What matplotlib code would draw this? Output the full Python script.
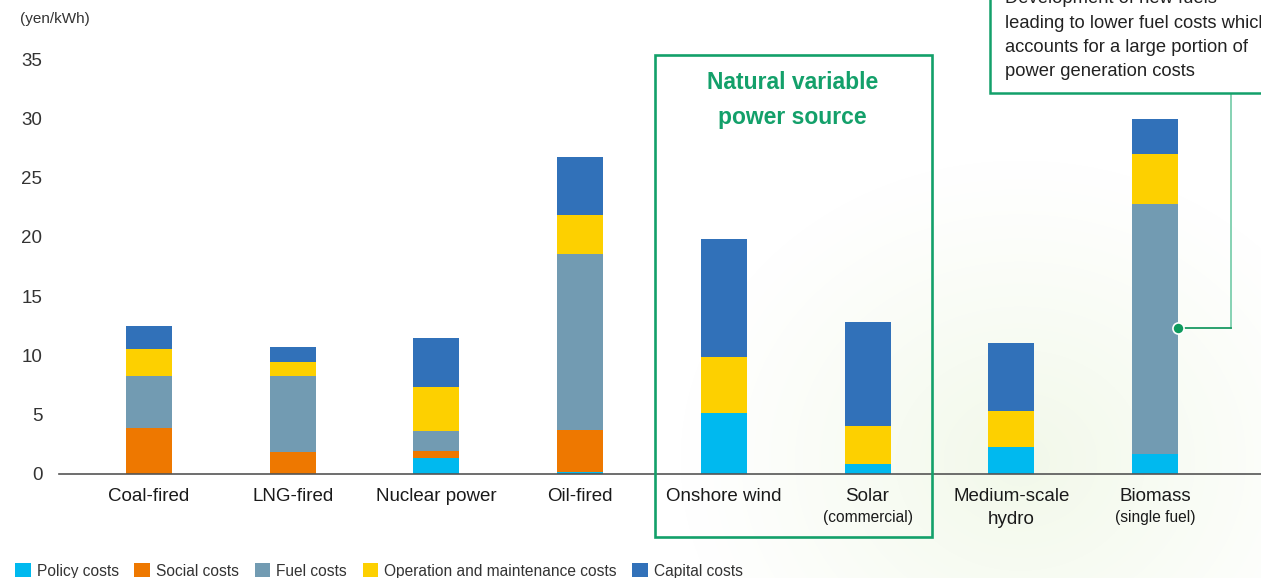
import numpy as np
import matplotlib
matplotlib.use("Agg")
import matplotlib.pyplot as plt
from matplotlib.patches import Rectangle

plt.rcParams["font.family"] = ["Liberation Sans", "DejaVu Sans"]

# ---------------------------------------------------------------
# Data (yen/kWh)
# ---------------------------------------------------------------
sources = ["Coal-fired", "LNG-fired", "Nuclear power", "Oil-fired",
           "Onshore wind", "Solar", "Medium-scale\nhydro", "Biomass"]
sublabels = ["", "", "", "", "", "(commercial)", "", "(single fuel)"]

policy = [0.0, 0.02, 1.35, 0.17, 5.17, 0.87, 2.3, 1.71]
social = [3.9, 1.86, 0.56, 3.54, 0.0, 0.0, 0.0, 0.0]
fuel = [4.36, 6.38, 1.69, 14.82, 0.0, 0.0, 0.0, 21.06]
om = [2.28, 1.18, 3.71, 3.29, 4.72, 3.2, 3.0, 4.22]
capital = [1.94, 1.27, 4.2, 4.92, 9.95, 8.77, 5.73, 2.95]

series_names = ["Policy costs", "Social costs", "Fuel costs",
                "Operation and maintenance costs", "Capital costs"]
series_colors = ["#00b9ef", "#ee7800", "#729bb2", "#fdd000", "#3171b9"]

GREEN = "#13a06a"

fig = plt.figure(figsize=(12.61, 5.78), dpi=100)

# faint green background glow (lower right)
bg = fig.add_axes([0, 0, 1, 1], zorder=-10)
bg.axis("off")
yy, xx = np.mgrid[0:578, 0:1261]
r = np.sqrt(((xx - 1020) / 340.0) ** 2 + ((yy - 460) / 300.0) ** 2)
glow = np.clip(1 - r, 0, 1) ** 1.1
img = np.ones((578, 1261, 3))
tint = np.array([0.92, 0.96, 0.87])
img = img * (1 - glow[..., None] * 0.65) + tint * glow[..., None] * 0.65
bg.imshow(img, extent=[0, 1261, 578, 0], aspect="auto")
bg.set_xlim(0, 1261)
bg.set_ylim(578, 0)

ax = fig.add_axes([59 / 1261, 1 - 474 / 578, 1 - 59 / 1261, 415 / 578])
ax.patch.set_alpha(0)

x = np.arange(len(sources))
width = 0.32
bottom = np.zeros(len(sources))
for name, vals, col in zip(series_names, [policy, social, fuel, om, capital], series_colors):
    ax.bar(x, vals, width, bottom=bottom, color=col, label=name, zorder=3)
    bottom += np.array(vals)

ax.set_xlim(-0.626, 7.738)
ax.set_ylim(0, 35)
ax.set_yticks(range(0, 36, 5))
ax.tick_params(axis="y", length=0, pad=12, labelsize=13.5, labelcolor="#333333")
ax.set_xticks(x)
ax.set_xticklabels(sources, fontsize=13.5, color="#1a1a1a", linespacing=1.45)
ax.tick_params(axis="x", length=0, pad=10)
for s in ["top", "right", "left"]:
    ax.spines[s].set_visible(False)
ax.spines["bottom"].set_color("#555555")
ax.spines["bottom"].set_linewidth(1.2)
ax.spines["bottom"].set_zorder(4)

for xi, sub in zip(x, sublabels):
    if sub:
        ax.text(xi, -0.104, sub, transform=ax.get_xaxis_transform(),
                ha="center", va="center", fontsize=11.2, color="#1a1a1a")

# natural variable power source box
ax.add_patch(Rectangle((3.52, -5.31), 1.93, 40.65, fill=False, edgecolor=GREEN,
                       linewidth=1.9, clip_on=False, zorder=5))
ax.text(4.48, 31.55, "Natural variable\npower source", ha="center", va="center",
        fontsize=16.5, fontweight="bold", color=GREEN, linespacing=1.7)

# callout for biomass fuel costs
ax.plot([7.53, 7.53], [12.3, 32.2], color="#7dcfae", lw=1.3, clip_on=False, zorder=5)
ax.plot([7.16, 7.53], [12.3, 12.3], color="#1a9a63", lw=1.3, clip_on=False, zorder=5)
ax.plot([7.16], [12.3], "o", ms=8, color="#0e9a5d", mec="white", mew=1.2,
        clip_on=False, zorder=6)

fig.patches.append(Rectangle((990, 578 - 93), 300, 120, transform=None, fill=True,
                             facecolor="white", edgecolor=GREEN, linewidth=1.8,
                             figure=fig, zorder=1))
note = ["Development of new fuels", "leading to lower fuel costs which",
        "accounts for a large portion of", "power generation costs"]
for i, line in enumerate(note):
    fig.text(1005 / 1261, 1 - (-1.5 + 24.5 * i) / 578, line, ha="left", va="center",
             fontsize=13.2, color="#222222", zorder=2)

fig.text(20 / 1261, 1 - 19 / 578, "(yen/kWh)", ha="left", va="center",
         fontsize=11, color="#333333")

fig.legend(loc="center left", bbox_to_anchor=(0.007, 1 - 571 / 578), ncol=5,
           frameon=False, fontsize=11.2, handlelength=1.0, handleheight=1.0,
           handletextpad=0.4, columnspacing=1.0, borderaxespad=0, labelcolor="#333333")

fig.savefig("out.png", dpi=100)
